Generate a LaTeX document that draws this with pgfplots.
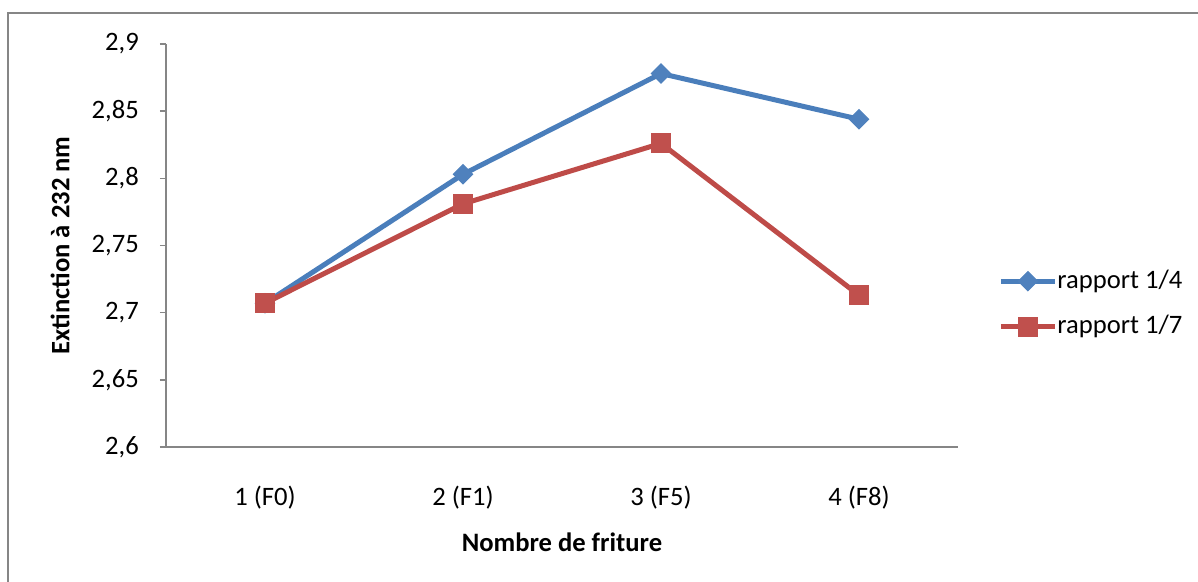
\documentclass[border=0pt]{standalone}
\usepackage{fontspec}
\setmainfont{Carlito}
\usepackage{pgfplots}
\pgfplotsset{compat=1.18}

\definecolor{serA}{HTML}{4A7EBB}
\definecolor{serAm}{HTML}{4F81BD}
\definecolor{serB}{HTML}{BE4B48}
\definecolor{serBm}{HTML}{C0504D}
\definecolor{axgray}{HTML}{868686}

\begin{document}
\fontsize{13.3pt}{16pt}\selectfont
\begin{tikzpicture}
\useasboundingbox (-83pt,-67.5pt) rectangle (516pt,223.5pt);
% chart area frame
\draw[axgray, line width=1.3pt] (-79pt,-90pt) -- (-79pt,217pt) -- (540pt,217pt);
\begin{axis}[
  at={(0pt,0pt)}, anchor=south west,
  scale only axis, width=396pt, height=201.5pt,
  xmin=0.5, xmax=4.5, ymin=2.6, ymax=2.9,
  axis x line*=bottom, axis y line*=left,
  axis line style={axgray, line width=0.8pt},
  xtick={1,2,3,4},
  xticklabels={1 (F0),2 (F1),3 (F5),4 (F8)},
  x tick style={draw=none},
  xticklabel style={yshift=-12pt},
  ytick={2.6,2.65,2.7,2.75,2.8,2.85,2.9},
  y tick style={axgray, line width=0.8pt},
  tick align=outside, major tick length=3pt,
  yticklabel style={xshift=-6pt},
  /pgf/number format/use comma,
  /pgf/number format/assume math mode=true,
  xlabel={\textbf{Nombre de friture}},
  ylabel={\textbf{Extinction à 232 nm}},
  xlabel style={at={(axis description cs:0.5,-0.2357)}, anchor=center},
  ylabel style={at={(axis description cs:-0.1338,0.5)}, anchor=center},
  legend style={at={(axis description cs:1.0505,0.355)}, anchor=west,
    draw=none, fill=none, inner sep=0pt,
    nodes={inner xsep=0pt, inner ysep=0pt},
    row sep=11.5pt},
  legend cell align=left,
  legend image code/.code={%
    \draw[mark repeat=2, mark phase=2, #1]
      plot coordinates {(0pt,0pt) (13.5pt,0pt) (27pt,0pt)};},
]
\addplot[serA, line width=2.5pt, mark=square*,
  mark options={rotate=45, fill=serAm, draw=serAm, line width=0.5pt},
  mark size=3.4pt]
  coordinates {(1,2.707) (2,2.803) (3,2.878) (4,2.844)};
\addlegendentry{rapport 1/4}
\addplot[serB, line width=2.5pt, mark=square*,
  mark options={fill=serBm, draw=serBm, line width=0.5pt},
  mark size=4.8pt]
  coordinates {(1,2.707) (2,2.781) (3,2.826) (4,2.713)};
\addlegendentry{rapport 1/7}
\end{axis}
\end{tikzpicture}
\end{document}
